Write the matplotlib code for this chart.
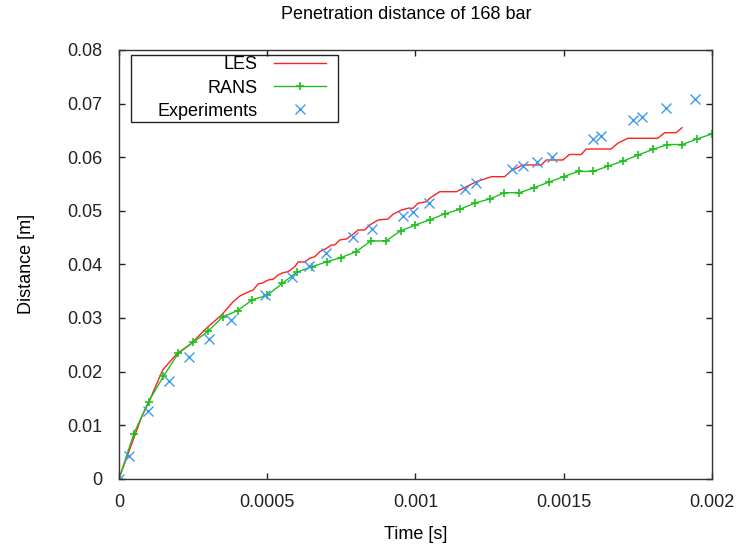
import matplotlib
matplotlib.use('Agg')
import matplotlib.pyplot as plt
from matplotlib.patches import Rectangle

plt.rcParams['font.family'] = ['Liberation Sans', 'DejaVu Sans']

# LES (staircase-like output)
les_t = [0, 0.0000313, 0.0000765, 0.0000987, 0.0001472, 0.0001944, 0.0002449,
         0.0002955, 0.000346, 0.0003851, 0.0004077, 0.0004303, 0.0004525,
         0.0004693, 0.0004862, 0.000503, 0.0005199, 0.0005367, 0.0005536,
         0.0005704, 0.000593, 0.0006041, 0.0006267, 0.0006435, 0.0006604,
         0.0006772, 0.0006998, 0.0007167, 0.0007278, 0.0007446, 0.0007672,
         0.0007894, 0.0008063, 0.0008288, 0.0008457, 0.0008737, 0.0009073,
         0.0009242, 0.0009525, 0.0009747, 0.0009916, 0.0010084, 0.0010367,
         0.0010478, 0.0010815, 0.0011378, 0.0012052, 0.0012557, 0.0013005,
         0.0013231, 0.0013622, 0.0014242, 0.001441, 0.001497, 0.0015195,
         0.001559, 0.0015758, 0.00166, 0.0016823, 0.001716, 0.001817,
         0.0018406, 0.001879, 0.0018992]
les_d = [0, 0.00474, 0.01157, 0.01407, 0.02028, 0.02327, 0.02527,
         0.02812, 0.03055, 0.03303, 0.03409, 0.03471, 0.03521,
         0.03633, 0.03657, 0.03708, 0.03721, 0.03801, 0.03844,
         0.03863, 0.03956, 0.04044, 0.04044, 0.04113, 0.04143,
         0.04236, 0.04299, 0.04361, 0.04361, 0.04454, 0.04473,
         0.04561, 0.04641, 0.04641, 0.04734, 0.04827, 0.04846,
         0.04934, 0.05014, 0.05046, 0.05046, 0.05139, 0.05169,
         0.05232, 0.05355, 0.05355, 0.05542, 0.05635, 0.05635,
         0.05747, 0.05854, 0.05854, 0.05947, 0.05947, 0.0605,
         0.0605, 0.06152, 0.06152, 0.06259, 0.06352, 0.06352,
         0.06456, 0.06456, 0.0655]

# RANS, one value every 5e-5 s
rans_t = [k * 0.00005 for k in range(41)]
rans_d = [0, 0.00841, 0.0144, 0.01913, 0.0234, 0.02545, 0.0275, 0.03023,
          0.03135, 0.0334, 0.0342, 0.03643, 0.03855, 0.03953, 0.04047,
          0.04127, 0.04238, 0.04437, 0.04437, 0.04623, 0.04735, 0.04834,
          0.04945, 0.05027, 0.05144, 0.05219, 0.05336, 0.05336, 0.05429,
          0.05535, 0.05637, 0.05734, 0.05734, 0.05833, 0.05926, 0.06037,
          0.06143, 0.06236, 0.06236, 0.0634, 0.06433]

# experiments
exp_t = [0, 0.0000337, 0.0000977, 0.0001685, 0.0002358, 0.0003032, 0.0003763,
         0.0004919, 0.0005819, 0.0006402, 0.0006974, 0.0007894, 0.0008534,
         0.0009579, 0.0009916, 0.0010445, 0.0011658, 0.0012052, 0.0013251,
         0.0013622, 0.0014107, 0.0014589, 0.001598, 0.0016263, 0.0017328,
         0.0017645, 0.0018453, 0.001944]
exp_d = [0, 0.00429, 0.01269, 0.01823, 0.02271, 0.02607, 0.02956,
         0.03422, 0.03769, 0.03975, 0.04206, 0.04505, 0.04654,
         0.04908, 0.04982, 0.05139, 0.054, 0.05512, 0.05779,
         0.05841, 0.05904, 0.06003, 0.06339, 0.06395, 0.06693,
         0.06744, 0.06912, 0.07085]

fig = plt.figure(figsize=(7.37, 5.48), dpi=100)
ax = fig.add_axes([0.1615, 0.1265, 0.8045, 0.7823])

ax.plot(les_t, les_d, color='#ff2020', lw=1.0, label='LES')
ax.plot(rans_t, rans_d, color='#1fbf1f', lw=1.0, marker='+', ms=6, mew=1.2,
        label='RANS')
ax.plot(exp_t, exp_d, ls='none', marker='x', color='#3d9cf0', ms=6.5, mew=1.0,
        label='Experiments')

ax.set_xlim(0, 0.002)
ax.set_ylim(0, 0.08)
ax.set_xticks([0, 0.0005, 0.001, 0.0015, 0.002])
ax.set_xticklabels(['0', '0.0005', '0.001', '0.0015', '0.002'])
ax.set_yticks([0, 0.01, 0.02, 0.03, 0.04, 0.05, 0.06, 0.07, 0.08])
ax.set_yticklabels(['0', '0.01', '0.02', '0.03', '0.04', '0.05', '0.06',
                    '0.07', '0.08'])
ax.tick_params(direction='in', length=4, width=1, top=True, right=True,
               labelsize=13, colors='#222222')
ax.tick_params(axis='y', pad=12)
ax.tick_params(axis='x', pad=11)
for s in ax.spines.values():
    s.set_color('#333333')
    s.set_linewidth(1.0)

ax.set_xlabel('Time [s]', fontsize=13, labelpad=11)
ax.set_ylabel('Distance [m]', fontsize=13, labelpad=23)
fig.text(0.551, 0.974, 'Penetration distance of 168 bar', fontsize=13,
         ha='center', va='center')

# gnuplot style key: labels right aligned, sample on the right
leg = ax.legend(loc='upper right', bbox_to_anchor=(0.349, 0.985),
                borderaxespad=0, markerfirst=False, frameon=False,
                fontsize=13, handlelength=2.9, handletextpad=0.9,
                labelspacing=0.34, borderpad=0)
ax.add_patch(Rectangle((0.0202, 0.8328), 0.3491, 0.1555, transform=ax.transAxes,
                       fill=False, edgecolor='#222222', lw=1.0, zorder=5))

fig.savefig('out.png', dpi=100)
